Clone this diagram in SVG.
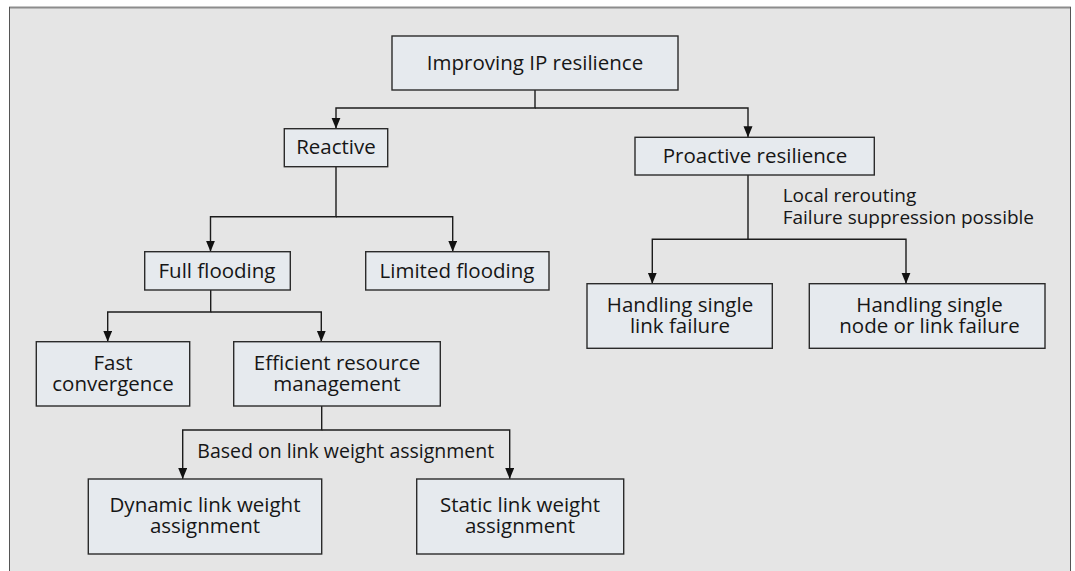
<svg xmlns="http://www.w3.org/2000/svg" width="1075" height="571" viewBox="0 0 1075 571">
  <defs>
    <marker id="arrow" markerUnits="userSpaceOnUse" markerWidth="11" markerHeight="10" refX="11" refY="4.5" orient="auto">
      <path d="M0,0 L11,4.5 L0,9 z" fill="#111"/>
    </marker>
    <style>
      .box { fill: #e6eaee; stroke: #2b2b2b; stroke-width: 1.4; }
      .lbl { font-family: "Open Sans", "Noto Sans", "Liberation Sans", sans-serif; font-size: 20.5px; fill: #161616; text-anchor: middle; }
      .note { font-family: "Open Sans", "Noto Sans", "Liberation Sans", sans-serif; font-size: 19px; fill: #161616; }
      .conn path { fill: none; stroke: #1c1c1c; stroke-width: 1.4; }
    </style>
  </defs>

  <!-- page and frame -->
  <rect x="0" y="0" width="1075" height="571" fill="#ffffff"/>
  <rect x="9" y="8" width="1062" height="563" fill="#e5e5e5"/>
  <line x1="9" y1="7.5" x2="1071" y2="7.5" stroke="#8c8c8c" stroke-width="2"/>
  <line x1="9.5" y1="7" x2="9.5" y2="571" stroke="#555" stroke-width="1"/>
  <line x1="1070.5" y1="7" x2="1070.5" y2="571" stroke="#555" stroke-width="1"/>

  <!-- connectors -->
  <g id="connectors" class="conn">
    <path d="M535,90 V108 H336 V128.7" marker-end="url(#arrow)"/>
    <path d="M535,108 H748 V137.3" marker-end="url(#arrow)"/>
    <path d="M336,166.7 V216.7 H210.5 V251.7" marker-end="url(#arrow)"/>
    <path d="M336,216.7 H452.7 V251.7" marker-end="url(#arrow)"/>
    <path d="M748,175 V239.3 H652.3 V283.7" marker-end="url(#arrow)"/>
    <path d="M748,239.3 H906 V283.7" marker-end="url(#arrow)"/>
    <path d="M210.7,290 V312 H107.7 V341.7" marker-end="url(#arrow)"/>
    <path d="M210.7,312 H321.3 V341.7" marker-end="url(#arrow)"/>
    <path d="M321.7,406 V430 H182.7 V479" marker-end="url(#arrow)"/>
    <path d="M321.7,430 H509.7 V479" marker-end="url(#arrow)"/>
    <text class="note" x="782.7" y="201.7">Local rerouting<tspan x="782.7" dy="22.3">Failure suppression possible</tspan></text>
    <text class="note" x="197.3" y="457.7" style="font-size:19.5px">Based on link weight assignment</text>
  </g>

  <g id="root">
    <rect class="box" x="392" y="36" width="286" height="54"/>
    <text class="lbl" x="535" y="70">Improving IP resilience</text>
  </g>
  <g id="reactive">
    <rect class="box" x="284.3" y="128.7" width="103.4" height="38"/>
    <text class="lbl" x="336" y="154">Reactive</text>
  </g>
  <g id="proactive">
    <rect class="box" x="635" y="137.3" width="239.3" height="37.7"/>
    <text class="lbl" x="755" y="163.3">Proactive resilience</text>
  </g>
  <g id="full-flooding">
    <rect class="box" x="144.7" y="251.7" width="145.6" height="38.3"/>
    <text class="lbl" x="217" y="278.3">Full flooding</text>
  </g>
  <g id="limited-flooding">
    <rect class="box" x="365.7" y="251.7" width="183.3" height="38.3"/>
    <text class="lbl" x="457" y="278.3">Limited flooding</text>
  </g>
  <g id="single-link">
    <rect class="box" x="587" y="283.7" width="185.3" height="64.6"/>
    <text class="lbl" x="680" y="312.3">Handling single<tspan x="680" dy="21">link failure</tspan></text>
  </g>
  <g id="single-node-or-link">
    <rect class="box" x="809.3" y="283.7" width="235.7" height="64.6"/>
    <text class="lbl" x="929.5" y="312.3">Handling single<tspan x="929.5" dy="21">node or link failure</tspan></text>
  </g>
  <g id="fast-convergence">
    <rect class="box" x="36.3" y="341.7" width="153.4" height="64.3"/>
    <text class="lbl" x="113" y="370">Fast<tspan x="113" dy="20.7">convergence</tspan></text>
  </g>
  <g id="efficient-resource">
    <rect class="box" x="233.7" y="341.7" width="206.6" height="64.3"/>
    <text class="lbl" x="337" y="370">Efficient resource<tspan x="337" dy="20.7">management</tspan></text>
  </g>
  <g id="dynamic-weight">
    <rect class="box" x="88.3" y="479" width="233.4" height="75"/>
    <text class="lbl" x="205" y="511.7">Dynamic link weight<tspan x="205" dy="21">assignment</tspan></text>
  </g>
  <g id="static-weight">
    <rect class="box" x="416.7" y="479" width="207" height="75"/>
    <text class="lbl" x="520" y="511.7">Static link weight<tspan x="520" dy="21">assignment</tspan></text>
  </g>
</svg>
